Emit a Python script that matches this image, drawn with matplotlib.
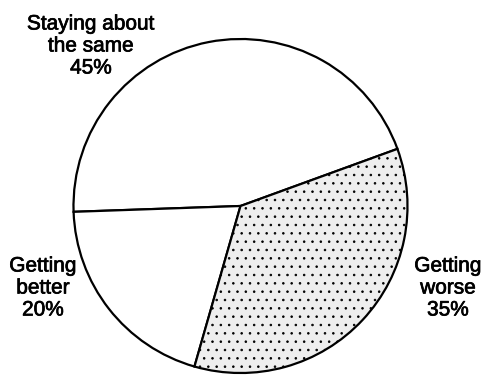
import matplotlib.pyplot as plt
import matplotlib.patheffects as pe

# Opinion split
labels = ["Staying about\nthe same\n45%", "Getting\nbetter\n20%", "Getting\nworse\n35%"]
shares = [45, 20, 35]
colors = ["white", "white", "#eeeeee"]
hatches = [None, None, ".."]

plt.rcParams["font.family"] = ["Liberation Sans", "DejaVu Sans"]
plt.rcParams["hatch.color"] = "#444444"
plt.rcParams["hatch.linewidth"] = 0.6

fig = plt.figure(figsize=(4.87, 3.75), dpi=100)
ax = fig.add_axes([0, 0, 1, 1])

wedges, _ = ax.pie(shares, colors=colors, startangle=-20, counterclock=False,
                   center=(240.5, 206), radius=167, frame=True,
                   wedgeprops=dict(edgecolor="black", linewidth=1.6))
for w, h in zip(wedges, hatches):
    if h:
        w.set_hatch(h)
ax.set_xlim(0, 487)
ax.set_ylim(375, 0)
ax.set_aspect("equal")
ax.axis("off")

# labels around the pie
txt_kw = dict(ha="center", va="center", fontsize=15, linespacing=1.2,
              path_effects=[pe.withStroke(linewidth=0.5, foreground="black")])
ax.text(91, 46, labels[0], **txt_kw)
ax.text(43, 288, labels[1], **txt_kw)
ax.text(448, 288, labels[2], **txt_kw)

fig.savefig("out.png", dpi=100)
